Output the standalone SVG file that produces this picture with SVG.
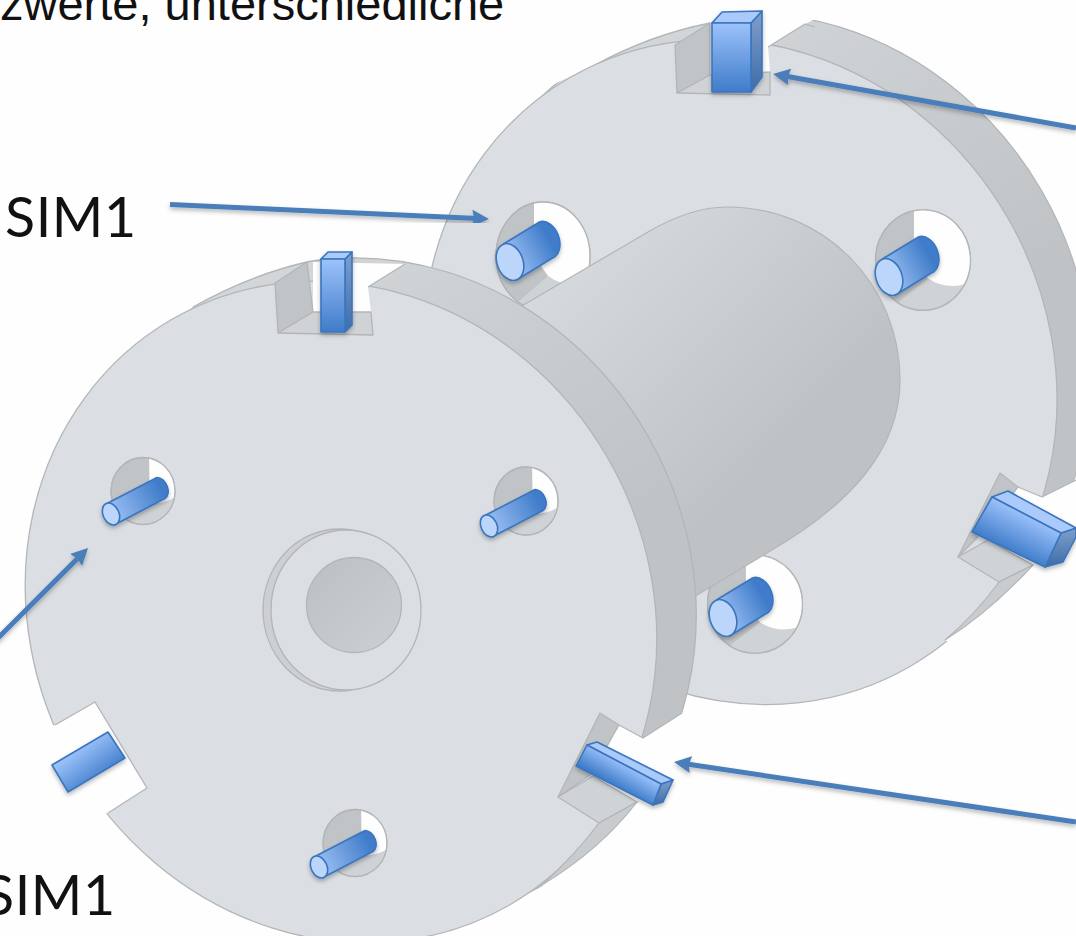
<svg xmlns="http://www.w3.org/2000/svg" xmlns:xlink="http://www.w3.org/1999/xlink" width="1076" height="936" viewBox="0 0 1076 936">
<style>
.face{fill:#dbdfe3;stroke:#b3b5b7;stroke-width:1.3}
.rim{stroke:#b3b5b7;stroke-width:1.3}
.edge{fill:none;stroke:#b3b5b7;stroke-width:1.3;stroke-linejoin:round}
.wall{fill:#c1c4c7;stroke:#b3b5b7;stroke-width:1.3;stroke-linejoin:round}
.floor{fill:#d0d3d6;stroke:#b3b5b7;stroke-width:1.3;stroke-linejoin:round}
.sliver{fill:#c9cccf;stroke:#b3b5b7;stroke-width:1.2;stroke-linejoin:round}
.cut{fill:#fefefe;stroke:none}
.blue{stroke:#3a75bd;stroke-width:1.6;stroke-linejoin:round}
.cap{fill:#bcd6fb;stroke:#3a75bd;stroke-width:1.6}
.label{font-family:"Lato","Carlito","Liberation Sans",sans-serif;font-size:55.5px;letter-spacing:.6px;fill:#111}
.head{font-family:"Liberation Sans",Arial,sans-serif;font-size:47px;fill:#111}
.arrow{fill:none;stroke:#4a7ebb;stroke-width:5;marker-end:url(#ah);filter:url(#sh)}
</style>
<defs>
<linearGradient id="rimG" x1="0.2" y1="0" x2="0.75" y2="0.8"><stop offset="0" stop-color="#d6d9dc"/><stop offset="0.75" stop-color="#c0c3c6"/><stop offset="1" stop-color="#c0c3c6"/></linearGradient>
<linearGradient id="hubG" x1="0" y1="0" x2="1" y2="1"><stop offset="0.1" stop-color="#d8dbde"/><stop offset="0.65" stop-color="#bfc2c4"/></linearGradient>
<linearGradient id="boreG" x1="0" y1="0" x2="1" y2="1"><stop offset="0" stop-color="#bcbfc1"/><stop offset="1" stop-color="#cdd0d2"/></linearGradient>
<linearGradient id="pinA" gradientUnits="userSpaceOnUse" x1="0" y1="0" x2="40" y2="-22"><stop offset="0" stop-color="#9cc0f4"/><stop offset="1" stop-color="#3f7cc9"/></linearGradient>
<linearGradient id="pinB" gradientUnits="userSpaceOnUse" x1="0" y1="0" x2="50" y2="-26"><stop offset="0" stop-color="#9cc0f4"/><stop offset="1" stop-color="#3f7cc9"/></linearGradient>
<linearGradient id="blF" x1="0" y1="0" x2="0" y2="1"><stop offset="0" stop-color="#9cc2fb"/><stop offset="1" stop-color="#3f7cc9"/></linearGradient>
<linearGradient id="blS" x1="0" y1="0" x2="0" y2="1"><stop offset="0" stop-color="#7f9fcd"/><stop offset="1" stop-color="#3e6ca8"/></linearGradient>
<linearGradient id="keyBR" gradientUnits="userSpaceOnUse" x1="1026" y1="514" x2="1008" y2="550"><stop offset="0" stop-color="#9cc2fb"/><stop offset="1" stop-color="#3f7cc9"/></linearGradient>
<linearGradient id="keyFR" gradientUnits="userSpaceOnUse" x1="626" y1="764" x2="614" y2="785"><stop offset="0" stop-color="#9cc2fb"/><stop offset="1" stop-color="#3f7cc9"/></linearGradient>
<linearGradient id="keyFL" gradientUnits="userSpaceOnUse" x1="78" y1="748" x2="102" y2="780"><stop offset="0" stop-color="#9cc2fb"/><stop offset="1" stop-color="#3f7cc9"/></linearGradient>
<filter id="sh" x="-20%" y="-20%" width="140%" height="150%"><feDropShadow dx="0" dy="2.5" stdDeviation="2" flood-color="#000" flood-opacity="0.28"/></filter>
<marker id="ah" markerUnits="userSpaceOnUse" markerWidth="20" markerHeight="18" refX="11" refY="8.500" orient="auto"><path d="M0,0L17,8.500L0,17L2,8.500Z" fill="#4a7ebb"/></marker>
<g id="hole">
<ellipse rx="47" ry="54" fill="#c1c4c7" stroke="#b3b5b7" stroke-width="1.3" vector-effect="non-scaling-stroke"/>
<path d="M41,26A47,54 0 0 1 -25,46L5,20Q25,32 41,26Z" fill="#d0d3d6"/>
<path d="M-9,-53A47,54 0 0 1 41,26Q22,32 5,20L-9,0Z" fill="#fefefe"/>
<ellipse rx="47" ry="54" fill="none" stroke="#b3b5b7" stroke-width="1.3" vector-effect="non-scaling-stroke"/>
</g>
<g id="holeF">
<ellipse rx="47" ry="54" fill="#c1c4c7" stroke="#b3b5b7" stroke-width="1.3" vector-effect="non-scaling-stroke"/>
<path d="M46,11A47,54 0 0 1 -25,46L5,25Q28,22 46,11Z" fill="#d0d3d6"/>
<path d="M9,-53A47,54 0 0 1 46,11Q28,22 10,20Z" fill="#fefefe"/>
<ellipse rx="47" ry="54" fill="none" stroke="#b3b5b7" stroke-width="1.3" vector-effect="non-scaling-stroke"/>
</g>
<g id="pinBig" filter="url(#sh)">
<path class="blue" fill="url(#pinA)" d="M-6.500,-18L29.500,-40A13,19 -20 0 1 42.500,-4L6.500,18Z"/>
<ellipse class="cap" rx="13" ry="19" transform="rotate(-20)"/>
</g>
<g id="pinThin" filter="url(#sh)">
<path class="blue" fill="url(#pinB)" d="M-4,-10.500L46,-36.500A8,11.500 -25 0 1 54,-15.500L4,10.500Z"/>
<ellipse class="cap" rx="8" ry="11.500" transform="rotate(-25)"/>
</g>
</defs>
<rect width="1076" height="936" fill="#fefefe"/>
<text class="head" x="0" y="20">zwerte, unterschiedliche</text>

<g id="back-disc">
<path class="rim" fill="url(#rimG)" d="M600,53.600A340,309 60 1 1 940,642.400A340,309 60 1 1 600,53.600Z"/>
<path class="cut" d="M520,100L595,65Q650,35 710,23L710,0L520,0Z"/>
<path class="edge" d="M595,65Q650,35 710,23"/>
<ellipse class="face" cx="740" cy="372" rx="340" ry="309" transform="rotate(60 740 372)"/>
<path class="cut" d="M710,8L815,8L815,19L805,24L768,47L770,72L710,75Z"/>
<path class="edge" d="M768,47L805,24L815,27"/>
<path class="wall" d="M675,45L710,23L710,75L677,93Z"/>
<path class="floor" d="M677,93L710,75L770,72L770,95Z"/>
<path class="cut" d="M1018,487L1042,497L1076,480L1076,570L1033,565L988,540Z"/>
<path class="cut" d="M1033,565Q990,612 945,640L960,650L1076,575L1076,560Z"/>
<path class="wall" d="M1000,473L1018,487L975,540L958,557Z"/>
<path class="floor" d="M958,557L988,540L1033,565L999,582Z"/>
<path class="sliver" d="M999,582L1033,565Q990,612 945,640Q975,615 999,582Z"/>
<path class="edge" d="M1018,487L1042,497L1076,480"/>
<use xlink:href="#hole" href="#hole" transform="translate(543 256)"/>
<use xlink:href="#hole" href="#hole" transform="translate(923 260) scale(1.01 .93)"/>
<use xlink:href="#hole" href="#hole" transform="translate(755 604) scale(1.01 .91)"/>
</g>

<g id="hub"><path fill="url(#hubG)" stroke="#b3b5b7" stroke-width="1.2" d="M520,307L648,232C672,218 698,207 727,207C825,207 900,285 900,380C900,450 850,505 767,553L694,597L640,600Z"/></g>

<g id="back-pins">
<use xlink:href="#pinBig" href="#pinBig" transform="translate(510 262)"/>
<use xlink:href="#pinBig" href="#pinBig" transform="translate(889 277)"/>
<use xlink:href="#pinBig" href="#pinBig" transform="translate(723 618)"/>
</g>

<g id="back-top-key" filter="url(#sh)">
<path class="blue" fill="url(#blS)" d="M751,23L762,11L762,77L751,92Z"/>
<path class="blue" fill="#a9cafa" d="M712,23L722,12L762,11L751,23Z"/>
<rect class="blue" fill="url(#blF)" x="712" y="23" width="39" height="69"/>
</g>
<g id="back-right-key" filter="url(#sh)">
<path class="blue" fill="url(#blS)" d="M1061,533L1076,528L1076,537L1063,562L1045,567Z"/>
<path class="blue" fill="#a9cafa" d="M992,497L1008,491L1076,528L1061,533Z"/>
<path class="blue" fill="url(#keyBR)" d="M992,497L1061,533L1045,567L972,532Z"/>
</g>

<g id="front-disc">
<path class="rim" fill="url(#rimG)" d="M209,297.300A338,308 60 1 1 547,882.700A338,308 60 1 1 209,297.300Z"/>
<path class="cut" d="M150,340L193,307Q250,275 307,262L307,240L150,240Z"/>
<path class="edge" d="M193,307Q250,275 307,262"/>
<ellipse class="face" cx="341" cy="612" rx="338" ry="308" transform="rotate(60 341 612)"/>
<path class="cut" d="M313,262L405,264L368,287L371,312L313,312Z"/>
<path class="edge" d="M368,287L405,264"/>
<path class="wall" d="M275,283L307,262L313,312L278,333Z"/>
<path class="floor" d="M278,333L313,312L371,312L373,335Z"/>
<path class="cut" d="M619,725L643,738L682,713L700,760L637,802L593,776Z"/>
<path class="cut" d="M637,802Q600,850 542,885L560,900L680,810Z"/>
<path class="wall" d="M600,713L619,725L590,775L558,797Z"/>
<path class="floor" d="M558,797L593,776L637,802L599,823Z"/>
<path class="sliver" d="M599,823L637,802Q600,850 542,885Q575,855 599,823Z"/>
<path class="edge" d="M619,725L643,738L682,713"/>
<path class="cut" d="M55,725L95,702L147,788L108,813L30,830L10,740Z"/>
<path class="edge" d="M55,725L95,702L147,788L108,813"/>
<use xlink:href="#holeF" href="#holeF" transform="translate(143 491) scale(.68 .62)"/>
<use xlink:href="#holeF" href="#holeF" transform="translate(526 501) scale(.68 .63)"/>
<use xlink:href="#holeF" href="#holeF" transform="translate(355 843) scale(.68 .62)"/>
<ellipse cx="339" cy="610" rx="76" ry="81" fill="#cdd0d3" stroke="#b3b5b7" stroke-width="1.3"/>
<ellipse cx="346" cy="610" rx="75" ry="80" fill="#dbdfe3" stroke="#b3b5b7" stroke-width="1.3"/>
<circle cx="354" cy="605" r="47.500" fill="url(#boreG)" stroke="#b3b5b7" stroke-width="1.3"/>
</g>

<g id="front-pins">
<use xlink:href="#pinThin" href="#pinThin" transform="translate(111 514)"/>
<use xlink:href="#pinThin" href="#pinThin" transform="translate(489 526)"/>
<use xlink:href="#pinThin" href="#pinThin" transform="translate(319 867)"/>
</g>

<g id="front-top-key" filter="url(#sh)">
<path class="blue" fill="url(#blS)" d="M345,259L352,252L352,325L345,332Z"/>
<path class="blue" fill="#a9cafa" d="M321,259L328,252L352,252L345,259Z"/>
<rect class="blue" fill="url(#blF)" x="321" y="259" width="24" height="73"/>
</g>
<g id="front-right-key" filter="url(#sh)">
<path class="blue" fill="url(#blS)" d="M661,784L673,780L663,802L653,805Z"/>
<path class="blue" fill="#a9cafa" d="M587,745L597,742L673,780L661,784Z"/>
<path class="blue" fill="url(#keyFR)" d="M587,745L661,784L653,805L576,766Z"/>
</g>
<g id="front-left-key" filter="url(#sh)">
<path class="blue" fill="url(#keyFL)" d="M52,765L108,732L125,758L68,792Z"/>
</g>

<g id="connectors">
<path class="arrow" d="M170,204.500L483,218.700"/>
<path class="arrow" d="M1076,128L779,75"/>
<path class="arrow" d="M-4,640L83.800,552.200"/>
<path class="arrow" d="M1076,822L680,763"/>
</g>

<text class="label" x="5" y="237">SIM1</text>
<text class="label" x="-16" y="915">SIM1</text>
</svg>
